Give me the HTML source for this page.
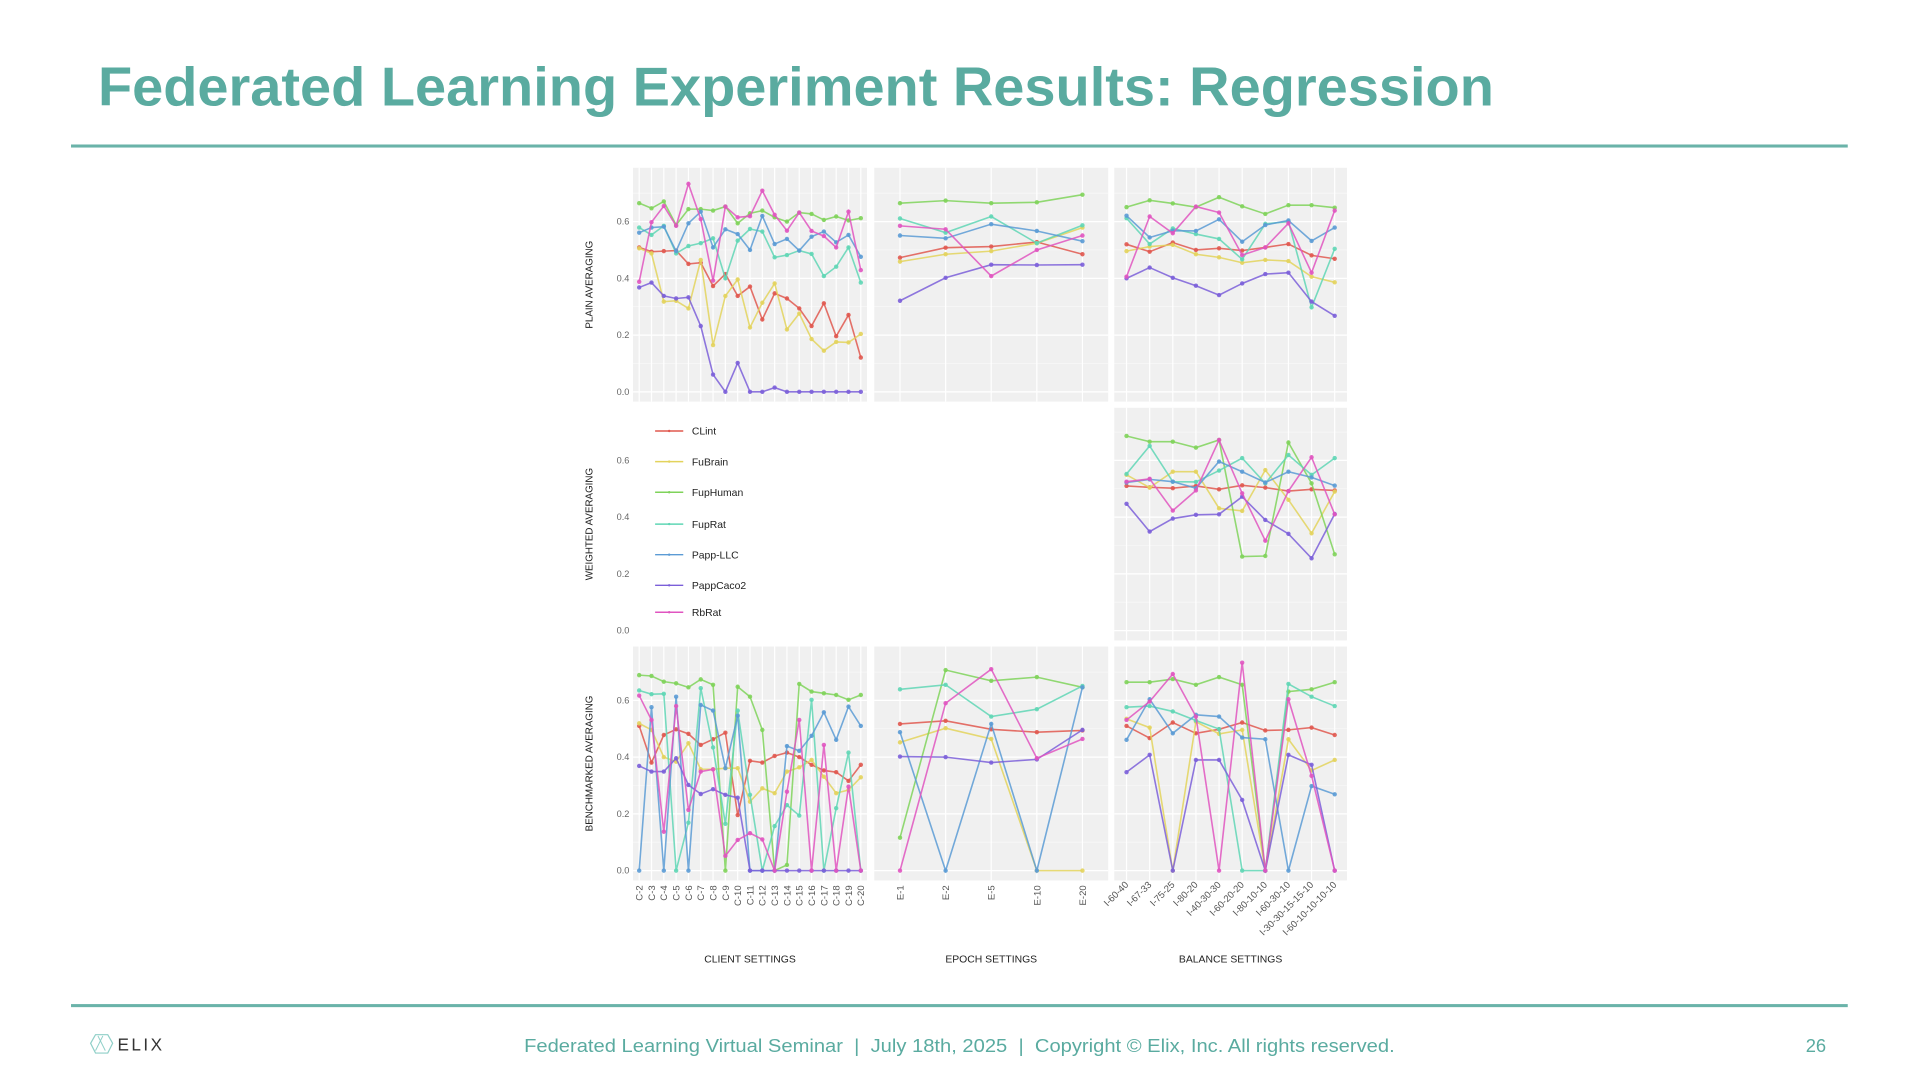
<!DOCTYPE html>
<html><head><meta charset="utf-8"><style>
html,body{margin:0;padding:0;background:#fff;}
svg{display:block;font-family:"Liberation Sans",sans-serif;}
</style></head><body>
<svg id="s" width="1920" height="1080" viewBox="0 0 1568 882" xmlns="http://www.w3.org/2000/svg">
<text x="80" y="86" font-size="45" font-weight="bold" fill="#5aaba0" textLength="1140" lengthAdjust="spacingAndGlyphs">Federated Learning Experiment Results: Regression</text>
<rect x="58" y="118" width="1451" height="2.5" fill="#6ab3a9"/>
<rect x="58" y="820" width="1451" height="2.5" fill="#6ab3a9"/>
<g>
<polygon points="74,852 78,845 88,845 92,852 88,860 78,860" fill="none" stroke="#8fcfc8" stroke-width="1"/>
<path d="M80,846 L86,858 M84,846 L78,858" stroke="#8fcfc8" stroke-width="0.8" fill="none"/>
<text x="96" y="858" font-size="14" fill="#333" letter-spacing="2">ELIX</text>
</g>
<text x="428" y="859" font-size="15" fill="#5aaba0" textLength="711" lengthAdjust="spacingAndGlyphs" xml:space="preserve">Federated Learning Virtual Seminar  |  July 18th, 2025  |  Copyright © Elix, Inc. All rights reserved.</text>
<text x="1483" y="859" font-size="15" fill="#5aaba0" text-anchor="middle">26</text>
<g id="chart"></g>
</svg>
<script>
const seriesNames = ["CLint","FuBrain","FupHuman","FupRat","Papp-LLC","PappCaco2","RbRat"];
const seriesColors = ["#e0584f","#e3d35c","#7fd35a","#5fd6b5","#5b9bd5","#7b5fd9","#e055c0"];
const clientCats = ["C-2","C-3","C-4","C-5","C-6","C-7","C-8","C-9","C-10","C-11","C-12","C-13","C-14","C-15","C-16","C-17","C-18","C-19","C-20"];
const epochCats = ["E-1","E-2","E-5","E-10","E-20"];
const balanceCats = ["I-60-40","I-67-33","I-75-25","I-80-20","I-40-30-30","I-60-20-20","I-80-10-10","I-60-30-10","I-30-30-15-15-10","I-60-10-10-10-10"];
const yTicks = [0,0.2,0.4,0.6];
const yTickLabels = ["0.0","0.2","0.4","0.6"];
const rowTitles = ["PLAIN AVERAGING","WEIGHTED AVERAGING","BENCHMARKED AVERAGING"];
const colTitles = ["CLIENT SETTINGS","EPOCH SETTINGS","BALANCE SETTINGS"];

// Plain averaging
const plainClient = [
[0.509,0.494,0.496,0.498,0.451,0.455,0.373,0.415,0.338,0.371,0.255,0.347,0.329,0.294,0.232,0.312,0.196,0.271,0.121],
[0.506,0.488,0.318,0.321,0.294,0.465,0.165,0.338,0.396,0.227,0.314,0.382,0.22,0.276,0.186,0.145,0.176,0.174,0.204],
[0.665,0.647,0.671,0.588,0.644,0.644,0.639,0.653,0.594,0.629,0.639,0.615,0.6,0.632,0.627,0.606,0.618,0.604,0.612],
[0.579,0.553,0.585,0.488,0.514,0.524,0.541,0.4,0.533,0.574,0.565,0.474,0.482,0.498,0.486,0.408,0.441,0.509,0.385],
[0.561,0.579,0.582,0.496,0.594,0.635,0.509,0.573,0.556,0.5,0.62,0.521,0.539,0.498,0.547,0.565,0.527,0.553,0.476],
[0.368,0.385,0.338,0.329,0.333,0.232,0.061,0,0.102,0,0,0.015,0,0,0,0,0,0,0],
[0.388,0.598,0.655,0.585,0.733,0.609,0.392,0.653,0.615,0.619,0.709,0.624,0.568,0.632,0.567,0.549,0.509,0.635,0.429]];
const plainEpoch = [
[0.473,0.508,0.512,0.528,0.485],
[0.459,0.485,0.496,0.524,0.579],
[0.665,0.674,0.665,0.668,0.695],
[0.611,0.561,0.618,0.524,0.587],
[0.551,0.541,0.591,0.567,0.531],
[0.321,0.402,0.448,0.447,0.448],
[0.585,0.573,0.408,0.5,0.551]];
const plainBalance = [
[0.52,0.494,0.526,0.5,0.506,0.498,0.509,0.521,0.481,0.469],
[0.496,0.512,0.518,0.485,0.474,0.455,0.465,0.461,0.406,0.386],
[0.651,0.675,0.664,0.651,0.686,0.654,0.627,0.658,0.658,0.649],
[0.612,0.521,0.576,0.556,0.539,0.467,0.592,0.6,0.298,0.504],
[0.621,0.544,0.568,0.567,0.608,0.529,0.588,0.604,0.532,0.579],
[0.4,0.438,0.402,0.374,0.341,0.382,0.415,0.42,0.318,0.268],
[0.406,0.618,0.559,0.653,0.632,0.482,0.509,0.594,0.42,0.639]];
// Weighted averaging
const weightedBalance = [
[0.51,0.505,0.502,0.51,0.498,0.512,0.504,0.492,0.498,0.494],
[0.549,0.504,0.56,0.56,0.431,0.422,0.566,0.461,0.343,0.49],
[0.686,0.666,0.666,0.645,0.672,0.261,0.263,0.663,0.519,0.269],
[0.552,0.651,0.525,0.524,0.564,0.608,0.519,0.619,0.549,0.608],
[0.522,0.533,0.525,0.502,0.596,0.56,0.522,0.56,0.54,0.511],
[0.447,0.349,0.395,0.408,0.41,0.472,0.39,0.341,0.255,0.411],
[0.525,0.535,0.423,0.494,0.672,0.484,0.317,0.492,0.611,0.41]];
// Benchmarked averaging
const benchClient = [
[0.51,0.381,0.478,0.498,0.482,0.443,0.463,0.486,0.196,0.387,0.381,0.404,0.416,0.4,0.373,0.353,0.347,0.316,0.373],
[0.519,0.496,0.4,0.384,0.449,0.357,0.357,0.361,0.361,0.243,0.29,0.273,0.349,0.364,0.39,0.331,0.273,0.284,0.329],
[0.689,0.686,0.666,0.66,0.646,0.674,0.655,0,0.648,0.613,0.496,0,0.02,0.658,0.631,0.625,0.619,0.602,0.619],
[0.635,0.622,0.623,0,0.169,0.643,0.434,0.165,0.564,0.267,0,0.157,0.231,0.194,0.602,0,0.22,0.416,0],
[0,0.576,0,0.613,0,0.584,0.564,0.361,0.546,0,0,0,0.439,0.422,0.475,0.558,0.461,0.578,0.51],
[0.369,0.349,0.349,0.396,0.302,0.27,0.287,0.267,0.257,0,0,0,0,0,0,0,0,0,0],
[0.617,0.531,0.137,0.58,0.214,0.349,0.357,0.052,0.108,0.132,0.11,0,0.278,0.531,0,0.443,0,0.296,0]];
const benchEpoch = [
[0.517,0.528,0.498,0.488,0.494],
[0.452,0.502,0.464,0,0],
[0.116,0.707,0.669,0.682,0.646],
[0.639,0.655,0.543,0.569,0.651],
[0.488,0,0.517,0,0.646],
[0.402,0.4,0.381,0.392,0.496],
[0,0.59,0.71,0.396,0.464]];
const benchBalance = [
[0.51,0.467,0.522,0.484,0.498,0.522,0.494,0.496,0.504,0.478],
[0.535,0.504,0,0.525,0.482,0.496,0,0.463,0.353,0.39],
[0.664,0.664,0.675,0.655,0.682,0.655,0,0.631,0.639,0.664],
[0.576,0.58,0.561,0.529,0.499,0,0,0.658,0.613,0.58],
[0.461,0.604,0.484,0.549,0.543,0.469,0.463,0,0.298,0.269],
[0.347,0.408,0,0.39,0.39,0.249,0,0.408,0.373,0],
[0.531,0.596,0.693,0.543,0,0.733,0,0.604,0.334,0]];

const NS="http://www.w3.org/2000/svg";
const chart=document.getElementById('chart');
function mk(tag,attrs,parent){const e=document.createElementNS(NS,tag);for(const k in attrs)e.setAttribute(k,attrs[k]);(parent||chart).appendChild(e);return e;}
const cols=[{x0:517,x1:708,cats:clientCats,pad:5},{x0:714,x1:905,cats:epochCats,pad:21},{x0:910,x1:1100,cats:balanceCats,pad:10}];
const rows=[{y0:137,y1:328,zero:320},{y0:333,y1:523,zero:515},{y0:528,y1:719,zero:711}];
const unit=231.7;
function xScale(c,i){const n=c.cats.length;return c.x0+c.pad+i*(c.x1-c.x0-2*c.pad)/(n-1);}
function yScale(r,v){return r.zero-v*unit;}

function drawPanel(ri,ci,data,name){
  const r=rows[ri],c=cols[ci];
  const g=mk('g',{});
  
  
  const bg=mk('rect',{x:c.x0,y:r.y0,width:c.x1-c.x0,height:r.y1-r.y0,fill:'#f0f0f0'},g);
  
  
  for(let v=0.1;v<0.8;v+=0.2){const y=yScale(r,v);if(y>r.y0)mk('line',{x1:c.x0,x2:c.x1,y1:y,y2:y,stroke:'#fafafa','stroke-width':0.5},g);}
  yTicks.forEach(v=>{const y=yScale(r,v);mk('line',{x1:c.x0,x2:c.x1,y1:y,y2:y,stroke:'#fff','stroke-width':1},g);});
  c.cats.forEach((_,i)=>{const x=xScale(c,i);mk('line',{x1:x,x2:x,y1:r.y0,y2:r.y1,stroke:'#fff','stroke-width':1},g);});
  data.forEach((s,si)=>{
    const pts=s.map((v,i)=>xScale(c,i)+','+yScale(r,v)).join(' ');
    const pl=mk('polyline',{points:pts,fill:'none',stroke:seriesColors[si],'stroke-width':1.3,'stroke-opacity':0.85},g);
    
    
    s.forEach((v,i)=>{
      const p=mk('circle',{cx:xScale(c,i),cy:yScale(r,v),r:1.8,fill:seriesColors[si],'fill-opacity':0.9},g);
      
      
    });
  });
}
drawPanel(0,0,plainClient,'panel-plain-client');
drawPanel(0,1,plainEpoch,'panel-plain-epoch');
drawPanel(0,2,plainBalance,'panel-plain-balance');
drawPanel(1,2,weightedBalance,'panel-weighted-balance');
drawPanel(2,0,benchClient,'panel-bench-client');
drawPanel(2,1,benchEpoch,'panel-bench-epoch');
drawPanel(2,2,benchBalance,'panel-bench-balance');

rows.forEach((r,ri)=>{
  yTicks.forEach((v,ti)=>{
    const t=mk('text',{x:514,y:yScale(r,v)+2.5,'font-size':7.5,fill:'#666','text-anchor':'end'});
    t.textContent=yTickLabels[ti];
    
    
  });
  const cy=(r.y0+r.y1)/2;
  const t=mk('text',{x:484,y:cy,'font-size':8,fill:'#222','text-anchor':'middle',transform:`rotate(-90 484 ${cy})`});
  t.textContent=rowTitles[ri];
  
  
});
cols.forEach((c,ci)=>{
  c.cats.forEach((lab,i)=>{
    const x=xScale(c,i);const y=723;
    let t;
    if(ci<2){t=mk('text',{x:x+2.8,y:y,'font-size':7.8,fill:'#555','text-anchor':'end',transform:`rotate(-90 ${x+2.8} ${y})`});}
    else{t=mk('text',{x:x+2,y:y,'font-size':7.8,fill:'#555','text-anchor':'end',transform:`rotate(-45 ${x+2} ${y})`});}
    t.textContent=lab;
    
    
  });
  const t=mk('text',{x:(c.x0+c.x1)/2,y:786,'font-size':8.5,fill:'#222','text-anchor':'middle'});
  t.textContent=colTitles[ci];
  
  
});
const legendY=[352,377,402,428,453,478,500];
seriesNames.forEach((n,i)=>{
  const g=mk('g',{});
  
  
  mk('line',{x1:535,x2:558,y1:legendY[i],y2:legendY[i],stroke:seriesColors[i],'stroke-width':1.2},g);
  mk('circle',{cx:546.5,cy:legendY[i],r:1,fill:seriesColors[i]},g);
  const t=mk('text',{x:565,y:legendY[i]+3,'font-size':8.5,fill:'#222'},g);
  t.textContent=n;
});
</script>
</body></html>
